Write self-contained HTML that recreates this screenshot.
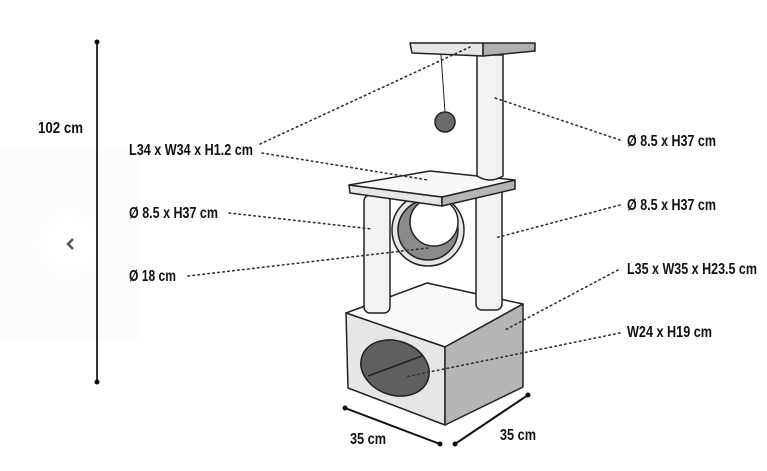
<!DOCTYPE html>
<html><head><meta charset="utf-8"><style>html,body{margin:0;padding:0;background:#fff}svg{display:block}</style></head>
<body>
<svg width="767" height="471" viewBox="0 0 767 471" xmlns="http://www.w3.org/2000/svg" font-family="Liberation Sans, sans-serif" font-weight="bold" font-size="16" fill="#111">
<defs><radialGradient id="g"><stop offset="0.55" stop-color="#fff"/><stop offset="1" stop-color="#fff" stop-opacity="0"/></radialGradient></defs>
<rect width="767" height="471" fill="#fff"/>
<rect x="0" y="150" width="140" height="190" fill="#fcfcfc"/>
<circle cx="70" cy="244" r="36" fill="url(#g)"/>
<circle cx="70" cy="244" r="24" fill="#fff"/>
<path d="M73 239 L68 244 L73 249" stroke="#555" stroke-width="2.5" fill="none"/>
<line x1="97" y1="42" x2="97" y2="382" stroke="#333" stroke-width="2"/>
<circle cx="97" cy="42" r="2.5" fill="#111"/><circle cx="97" cy="382" r="2.5" fill="#111"/>
<text x="38" y="133" textLength="45" lengthAdjust="spacingAndGlyphs">102 cm</text>
<text x="129" y="155" textLength="124" lengthAdjust="spacingAndGlyphs">L34 x W34 x H1.2 cm</text>
<text x="129" y="218" textLength="89" lengthAdjust="spacingAndGlyphs">Ø 8.5 x H37 cm</text>
<text x="129" y="281" textLength="47" lengthAdjust="spacingAndGlyphs">Ø 18 cm</text>
<text x="627" y="146" textLength="89" lengthAdjust="spacingAndGlyphs">Ø 8.5 x H37 cm</text>
<text x="627" y="210" textLength="89" lengthAdjust="spacingAndGlyphs">Ø 8.5 x H37 cm</text>
<text x="627" y="274" textLength="130" lengthAdjust="spacingAndGlyphs">L35 x W35 x H23.5 cm</text>
<text x="627" y="337" textLength="85" lengthAdjust="spacingAndGlyphs">W24 x H19 cm</text>
<text x="350" y="444" textLength="36" lengthAdjust="spacingAndGlyphs">35 cm</text>
<text x="500" y="440" textLength="36" lengthAdjust="spacingAndGlyphs">35 cm</text>
<g stroke="#222" stroke-width="1.5" stroke-linejoin="round">
<polygon points="346,313 427,283 523,304 445,347" fill="#fafafa"/>
<polygon points="346,313 445,347 445,425 348,388" fill="#e6e6e6"/>
<polygon points="445,347 523,304 523,387 445,425" fill="#b5b5b5"/>
<ellipse cx="395" cy="368" rx="35" ry="27" transform="rotate(20 395 368)" fill="#5f5f5f"/>
<line x1="368" y1="376" x2="422" y2="356"/>
<rect x="364" y="195" width="26" height="118" rx="6" fill="#f2f2f2"/>
<rect x="476" y="185" width="26" height="125" rx="6" fill="#f2f2f2"/>
<circle cx="428" cy="230" r="36" fill="#e6e6e6"/>
<circle cx="428" cy="230" r="30" fill="#8a8a8a"/>
<circle cx="434" cy="222" r="24" fill="#fff"/>
<polygon points="349,185 442,197 442,206 350,193" fill="#e6e6e6"/>
<polygon points="442,197 515,180 515,189 442,206" fill="#b5b5b5"/>
<polygon points="349,185 430,171 515,180 442,197" fill="#f8f8f8"/>
<path d="M477,55 L477,176 Q490,184 503,176 L503,55 Z" fill="#f2f2f2"/>
<polygon points="410,43 483,43 483,56 412,53" fill="#e6e6e6"/>
<polygon points="483,43 535,43 535,51 483,56" fill="#b0b0b0"/>
<line x1="441" y1="55" x2="445" y2="112" stroke-width="1"/>
<circle cx="445" cy="122" r="10" fill="#6a6a6a"/>
</g>
<g stroke="#111" stroke-width="2"><line x1="345" y1="408" x2="440" y2="444"/><line x1="455" y1="444" x2="528" y2="395"/></g>
<g fill="#111"><circle cx="345" cy="408" r="2.5"/><circle cx="440" cy="444" r="2.5"/><circle cx="455" cy="444" r="2.5"/><circle cx="528" cy="395" r="2.5"/></g>
<g stroke="#333" stroke-width="1.6" stroke-dasharray="1.5 3.5" stroke-linecap="round" fill="none">
<line x1="260" y1="144" x2="470" y2="47"/>
<line x1="262" y1="153" x2="428" y2="180"/>
<line x1="229" y1="213" x2="372" y2="229"/>
<line x1="188" y1="276" x2="428" y2="248"/>
<line x1="620" y1="140" x2="495" y2="98"/>
<line x1="620" y1="205" x2="495" y2="238"/>
<line x1="618" y1="270" x2="505" y2="330"/>
<line x1="620" y1="333" x2="405" y2="377"/>
</g>
</svg>
</body></html>
